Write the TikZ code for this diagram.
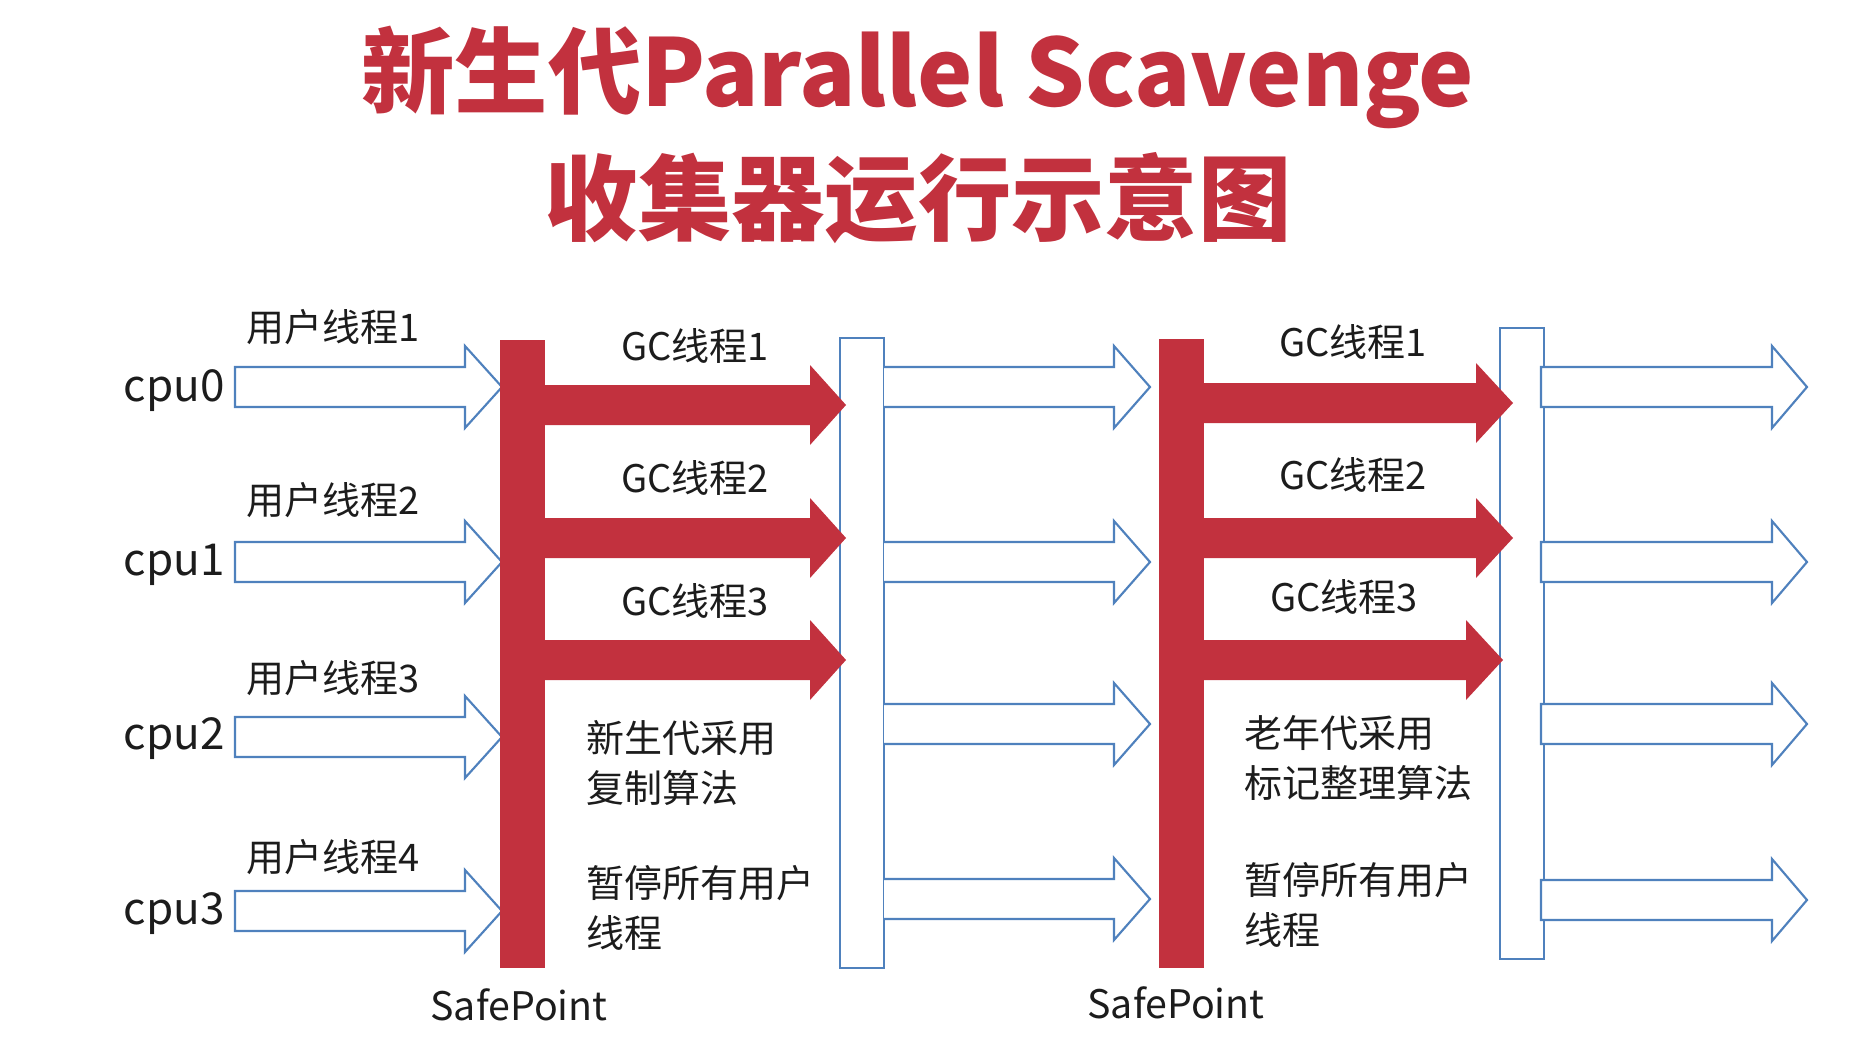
\documentclass[tikz,border=0pt]{standalone}
\usepackage{fontspec}
\setmainfont{Noto Sans CJK SC}
\definecolor{gcred}{RGB}{194,49,62}
\definecolor{lineblue}{RGB}{79,129,189}
\definecolor{txtgray}{RGB}{28,28,28}

\tikzset{every picture/.style={line width=0.75pt}}
\tikzset{
  userarrow/.style={draw=lineblue, fill=white, line width=1.6pt, line join=miter},
  gcbar/.style={fill=gcred, draw=none},
  titletext/.style={font=\fontsize{70}{84}\selectfont\bfseries, text=gcred, inner sep=0.75pt},
  labeltext/.style={font=\fontsize{28.5}{37}\selectfont, text=txtgray, inner sep=0.75pt},
  cputext/.style={font=\fontsize{33}{38}\selectfont, text=txtgray, inner sep=0.75pt},
}

\begin{document}
\begin{tikzpicture}[x=0.75pt,y=0.75pt,yscale=-1,xscale=1]
	\useasboundingbox (0,0) rectangle (1860,1050);
	
	% Title
	\node [titletext] (title1) at (918,77) {新生代Parallel Scavenge};
	\node [titletext] (title2) at (918,198) {收集器运行示意图};
	
	%User thread arrows [cpu0..cpu3]
	\draw [userarrow] (235,367) -- (465,367) -- (465,346) -- (502,387) -- (465,428) -- (465,407) -- (235,407) -- cycle ;
	\draw [userarrow] (235,542) -- (465,542) -- (465,521) -- (502,562) -- (465,603) -- (465,582) -- (235,582) -- cycle ;
	\draw [userarrow] (235,717) -- (465,717) -- (465,696) -- (502,737) -- (465,778) -- (465,757) -- (235,757) -- cycle ;
	\draw [userarrow] (235,891) -- (465,891) -- (465,870) -- (502,911) -- (465,952) -- (465,931) -- (235,931) -- cycle ;
	
	%Blank bar after young GC
	\draw [userarrow] (840,338) rectangle (884,968) ;
	
	%SafePoint bar + GC threads (young)
	\fill [gcbar] (500,340) rectangle (545,968) ;
	\fill [gcbar] (544,385) -- (810,385) -- (810,365) -- (846,405) -- (810,445) -- (810,425) -- (544,425) -- cycle ;
	\fill [gcbar] (544,518) -- (810,518) -- (810,498) -- (846,538) -- (810,578) -- (810,558) -- (544,558) -- cycle ;
	\fill [gcbar] (544,640) -- (810,640) -- (810,620) -- (846,660) -- (810,700) -- (810,680) -- (544,680) -- cycle ;
	
	%User thread arrows [between]
	\draw [userarrow] (884,367) -- (1114,367) -- (1114,346) -- (1150,387) -- (1114,428) -- (1114,407) -- (884,407) ;
	\draw [userarrow] (884,542) -- (1114,542) -- (1114,521) -- (1150,562) -- (1114,603) -- (1114,582) -- (884,582) ;
	\draw [userarrow] (884,704) -- (1114,704) -- (1114,683) -- (1150,724) -- (1114,765) -- (1114,744) -- (884,744) ;
	\draw [userarrow] (884,879) -- (1114,879) -- (1114,858) -- (1150,899) -- (1114,940) -- (1114,919) -- (884,919) ;
	
	%Blank bar after old GC
	\draw [userarrow] (1500,328) rectangle (1544,959) ;
	
	%SafePoint bar + GC threads (old)
	\fill [gcbar] (1159,339) rectangle (1204,968) ;
	\fill [gcbar] (1203,383) -- (1476,383) -- (1476,363) -- (1513,403) -- (1476,443) -- (1476,423) -- (1203,423) -- cycle ;
	\fill [gcbar] (1203,518) -- (1476,518) -- (1476,498) -- (1513,538) -- (1476,578) -- (1476,558) -- (1203,558) -- cycle ;
	\fill [gcbar] (1203,640) -- (1466,640) -- (1466,620) -- (1503,660) -- (1466,700) -- (1466,680) -- (1203,680) -- cycle ;
	
	%User thread arrows [after]
	\draw [userarrow] (1541,367) -- (1772,367) -- (1772,346) -- (1807,387) -- (1772,428) -- (1772,407) -- (1541,407) -- cycle ;
	\draw [userarrow] (1541,542) -- (1772,542) -- (1772,521) -- (1807,562) -- (1772,603) -- (1772,582) -- (1541,582) -- cycle ;
	\draw [userarrow] (1541,704) -- (1772,704) -- (1772,683) -- (1807,724) -- (1772,765) -- (1772,744) -- (1541,744) -- cycle ;
	\draw [userarrow] (1541,880) -- (1772,880) -- (1772,859) -- (1807,900) -- (1772,941) -- (1772,920) -- (1541,920) -- cycle ;
	
	% Text Node
	\node [cputext, anchor=east] (cpu0) at (226,391) {cpu0};
	\node [cputext, anchor=east] (cpu1) at (226,565) {cpu1};
	\node [cputext, anchor=east] (cpu2) at (226,739) {cpu2};
	\node [cputext, anchor=east] (cpu3) at (226,914) {cpu3};
	% Text Node
	\node [labeltext] (user1) at (333,327) {用户线程1};
	\node [labeltext] (user2) at (333,500) {用户线程2};
	\node [labeltext] (user3) at (333,678) {用户线程3};
	\node [labeltext] (user4) at (333,857) {用户线程4};
	% Text Node
	\node [labeltext] (gcA1) at (695,346) {GC线程1};
	\node [labeltext] (gcA2) at (695,478) {GC线程2};
	\node [labeltext] (gcA3) at (695,601) {GC线程3};
	\node [labeltext] (gcB1) at (1353,342) {GC线程1};
	\node [labeltext] (gcB2) at (1353,475) {GC线程2};
	\node [labeltext] (gcB3) at (1344,597) {GC线程3};
	% Text Node
	\node [labeltext, anchor=west, align=left] (youngalgo) at (585,763) {新生代采用\\复制算法};
	\node [labeltext, anchor=west, align=left] (youngstop) at (585,908) {暂停所有用户\\线程};
	\node [labeltext, anchor=west, align=left] (oldalgo) at (1243,758) {老年代采用\\标记整理算法};
	\node [labeltext, anchor=west, align=left] (oldstop) at (1243,905) {暂停所有用户\\线程};
	% Text Node
	\node [labeltext, font=\fontsize{29.5}{35}\selectfont] (safe1) at (519,1005) {SafePoint};
	\node [labeltext, font=\fontsize{29.5}{35}\selectfont] (safe2) at (1176,1003) {SafePoint};
	
\end{tikzpicture}
\end{document}
